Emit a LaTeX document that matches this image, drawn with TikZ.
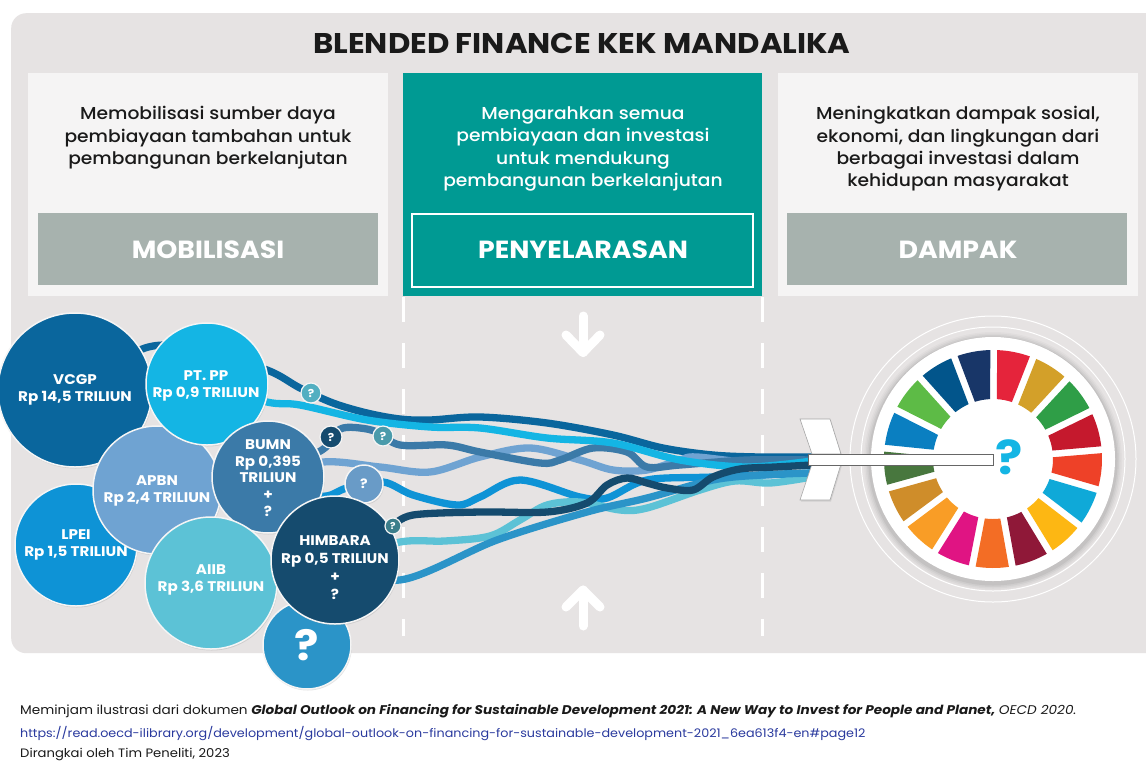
\documentclass[tikz,border=0pt]{standalone}
\usepackage{fontspec}
\setmainfont[FakeStretch=1.08]{Poppins}
\newfontfamily\medfont[FakeStretch=1.08]{Poppins Medium}
\usetikzlibrary{shadows}
\pgfdeclarelayer{panel}
\pgfdeclarelayer{ribbon}
\pgfsetlayers{panel,ribbon,main}
\definecolor{cvcgp}{HTML}{0A669D}
\definecolor{cpp}{HTML}{14B5E4}
\definecolor{capbn}{HTML}{6FA3D2}
\definecolor{clpei}{HTML}{0E93D6}
\definecolor{cbumn}{HTML}{3B7AA8}
\definecolor{caiib}{HTML}{5CC2D6}
\definecolor{cq}{HTML}{2B94C8}
\definecolor{chim}{HTML}{154B6E}
\definecolor{cpanel}{HTML}{E6E3E3}
\definecolor{ccol}{HTML}{F5F4F4}
\definecolor{cteal}{HTML}{009A93}
\definecolor{cgrey}{HTML}{A7B2AE}
\definecolor{cink}{HTML}{1A1A1A}
\definecolor{clink}{HTML}{2A3A9E}
\tikzset{
  colbox/.style={rectangle,inner sep=0pt,anchor=north west},
  headtext/.style={align=center,text=cink,font=\fontsize{17.3}{22.4}\selectfont\medfont},
  tagtext/.style={text=white,font=\fontsize{24.8}{28}\selectfont\bfseries},
  bubble/.style={circle,inner sep=0pt,draw=white!92!gray,line width=1.5pt,
    drop shadow={opacity=.22,shadow xshift=.8pt,shadow yshift=-1.5pt}},
  amount/.style={align=center,text=white,font=\fontsize{14}{16.8}\selectfont\bfseries},
  minibubble/.style={circle,inner sep=0pt,draw=white!92!gray,line width=1.2pt,text=white,font=\fontsize{11}{12}\selectfont\bfseries},
  flowline/.style={line width=7.3pt,line cap=butt,line join=round},
  dashline/.style={draw=white,line width=3pt,dash pattern=on 25pt off 21pt},
  bigarrow/.style={draw=white,line width=9pt,line cap=round,line join=round},
  notetext/.style={anchor=base west,inner sep=0pt,text=#1},
}
\begin{document}
\begin{tikzpicture}[x=1pt,y=-1pt]
\useasboundingbox (0,0) rectangle (1146,761);
\begin{pgfonlayer}{panel}
  \fill[white] (0,0) rectangle (1146,761);
  \node[colbox,fill=cpanel,rounded corners=15pt,minimum width=1150pt,minimum height=640pt] (panel) at (11,13) {};
  \node[colbox,fill=ccol,minimum width=360pt,minimum height=223pt] (colA) at (28,73) {};
  \node[colbox,fill=cteal,minimum width=359pt,minimum height=223pt] (colB) at (403,73) {};
  \node[colbox,fill=ccol,minimum width=360pt,minimum height=223pt] (colC) at (778,73) {};
  \coordinate (d1a) at (403,297); \coordinate (d1b) at (403,636);
  \coordinate (d2a) at (762,297); \coordinate (d2b) at (762,636);
  \draw[dashline] (d1a) -- (d1b);
  \draw[dashline] (d2a) -- (d2b);
\end{pgfonlayer}

\node[font=\fontsize{28.5}{30}\selectfont\bfseries,text=cink] (title) at (582,43) {BLENDED FINANCE KEK MANDALIKA};

\node[headtext] (txtA) at (208,138) {Memobilisasi sumber daya\\pembiayaan tambahan untuk\\pembangunan berkelanjutan};
\node[headtext,text=white] (txtB) at (583,149) {Mengarahkan semua\\pembiayaan dan investasi\\untuk mendukung\\pembangunan berkelanjutan};
\node[headtext] (txtC) at (958,149) {Meningkatkan dampak sosial,\\ekonomi, dan lingkungan dari\\berbagai investasi dalam\\kehidupan masyarakat};

\node[colbox,fill=cgrey,minimum width=340pt,minimum height=72pt] (tagA) at (38,213) {};
\node[colbox,draw=white,line width=1.6pt,minimum width=341pt,minimum height=73pt] (tagB) at (411,213) {};
\node[colbox,fill=cgrey,minimum width=340pt,minimum height=72pt] (tagC) at (787,213) {};
\node[tagtext] at (208,250) (tA) {MOBILISASI};
\node[tagtext] at (583,250) (tB) {PENYELARASAN};
\node[tagtext] at (958,250) (tC) {DAMPAK};

% big arrows
\coordinate (dnTop) at (583,316); \coordinate (dnTip) at (583,352.5);
\coordinate (upTop) at (583,590); \coordinate (upEnd) at (583,626);
\draw[bigarrow] (dnTop) -- (dnTip);
\draw[bigarrow] (566,335) -- (dnTip) -- (600,335);
\draw[bigarrow] (upTop) -- (upEnd);
\draw[bigarrow] (566,607) -- (upTop) -- (600,607);

% target wheel
\draw[white,line width=1pt] (993,459) circle (143pt);
\draw[white,line width=1pt] (993,459) circle (132pt);
\foreach \s/\o in {129/.025,127.5/.03,126/.04,124.5/.05}{\fill[black,opacity=\o] (993,461) circle (\s pt);}
\fill[white] (993,459) coordinate (wheel) circle (122pt);
\begin{scope}[shift={(993,459)}]
\foreach \i/\c in {0/E5243B,1/D3A029,2/2F9E47,3/C5192D,4/EE4128,5/0FA9D8,6/FDB713,7/8F1838,8/F36D25,9/E01483,10/F99D26,11/CF8D2A,12/48773E,13/0A7FC1,14/5DBB46,15/02558B,16/183668}{
  \definecolor{sl}{HTML}{\c}
  \pgfmathsetmacro\aa{89.6-\i*360/17}
  \pgfmathsetmacro\ab{\aa-360/17}
  \fill[sl] (\aa-1.8:109pt) arc[start angle=\aa-1.8,end angle=\ab+1.8,radius=109pt]
     -- (\ab+3.2:60pt) arc[start angle=\ab+3.2,end angle=\aa-3.2,radius=60pt] -- cycle;
}
\end{scope}
\node[text=cpp,font=\fontsize{47}{50}\selectfont\bfseries] (bigq) at (1009,457) {?};

% dart
\coordinate (t1) at (812,457); \coordinate (t2) at (812,461); \coordinate (t3) at (812,460);
\coordinate (t4) at (812,461); \coordinate (t5) at (812,473); \coordinate (t6) at (812,477);
\coordinate (t7) at (812,473); \coordinate (t8) at (812,465);
\path[draw=gray!70,line width=.6pt,fill=white,drop shadow={opacity=.2,shadow xshift=1pt,shadow yshift=-1.5pt}]
  (800,419) -- (830,419) -- (841,454) -- (812,454) -- cycle;
\path[draw=gray!70,line width=.6pt,fill=white,drop shadow={opacity=.2,shadow xshift=1pt,shadow yshift=-1.5pt}]
  (812,464) -- (841,464) -- (830,500) -- (800,500) -- cycle;
\node[colbox,fill=white,draw=gray!80!black,line width=.7pt,minimum width=185pt,minimum height=11pt] (shaft) at (808,454) {};

% bubbles
\node[bubble,fill=cvcgp,minimum size=154pt] (vcgp) at (75,390) {};
\node[bubble,fill=clpei,minimum size=122pt] (lpei) at (76,545) {};
\node[bubble,fill=capbn,minimum size=128pt] (apbn) at (157,490) {};
\node[bubble,fill=cpp,minimum size=122pt] (pp) at (207,384) {};
\node[bubble,fill=capbn!95!black,minimum size=38pt,text=white,font=\fontsize{13}{14}\selectfont\bfseries] (qapbn) at (364,484) {?};
\node[bubble,fill=cbumn,minimum size=112pt] (bumn) at (268,477) {};
\node[bubble,fill=cq,minimum size=88pt] (qbig) at (307,645) {};
\node[bubble,fill=caiib,minimum size=132pt] (aiib) at (211,583) {};
\node[bubble,fill=chim,minimum size=128pt] (him) at (335,560) {};
\node[minibubble,fill=chim,minimum size=22pt] (q1) at (331,437) {?};
\node[minibubble,fill=caiib!80!black,minimum size=20pt] (q2) at (383,436) {?};
\node[minibubble,fill=caiib!90!black,minimum size=20pt] (q3) at (311,393) {?};
\node[minibubble,fill=caiib!65!black,minimum size=16pt,font=\fontsize{9.5}{10}\selectfont\bfseries] (q4) at (393,526) {?};

% bubble texts
\node[amount] (tvcgp) at (75,390) {VCGP\\Rp 14,5 TRILIUN};
\node[amount] (tpp) at (206,386) {PT. PP\\Rp 0,9 TRILIUN};
\node[amount] (tapbn) at (157,491) {APBN\\Rp 2,4 TRILIUN};
\node[amount] (tlpei) at (76,545) {LPEI\\Rp 1,5 TRILIUN};
\node[amount] (taiib) at (211,580) {AIIB\\Rp 3,6 TRILIUN};
\node[amount] (tbumn) at (268,478) {BUMN\\Rp 0,395\\TRILIUN\\+\\?};
\node[amount,font=\fontsize{14}{18}\selectfont\bfseries] (thim) at (335,568) {HIMBARA\\Rp 0,5 TRILIUN\\+\\?};
\node[text=white,font=\fontsize{42}{44}\selectfont\bfseries] (tq) at (307,645) {?};

% ribbons
\begin{pgfonlayer}{ribbon}
\draw[flowline,cvcgp] plot[smooth,tension=.55] coordinates {(vcgp.center) (145,348) (200,350) (267,370) (300,388) (333,403) (367,413) (400,419) (430,420) (480,417) (547,423) (613,435) (663,448) (713,455) (760,457) (t1)};
\draw[flowline,capbn] plot[smooth,tension=.55] coordinates {(bumn.center) (323,462) (380,467) (430,472) (480,457) (530,448) (580,460) (613,470) (647,470) (680,460) (697,457) (763,464) (t2)};
\draw[flowline,cbumn] plot[smooth,tension=.55] coordinates {(bumn.center) (322,450) (332,436) (343,428) (360,428) (377,432) (400,445) (447,445) (480,452) (540,463) (560,460) (593,448) (627,452) (647,467) (680,465) (747,460) (t3)};
\draw[flowline,cpp] plot[smooth,tension=.55] coordinates {(pp.center) (267,402) (300,405) (367,420) (430,427) (480,428) (547,438) (613,443) (680,460) (747,467) (t4)};
\draw[flowline,clpei] plot[smooth,tension=.55] coordinates {(bumn.center) (320,496) (347,488) (383,482) (413,495) (457,505) (480,497) (520,480) (580,497) (607,498) (647,480) (713,477) (t5)};
\draw[flowline,caiib] plot[smooth,tension=.55] coordinates {(him.center) (400,542) (445,541) (490,536) (520,520) (547,505) (580,502) (620,510) (647,508) (700,490) (735,481) (770,483) (t6)};
\draw[flowline,cq] plot[smooth,tension=.55] coordinates {(him.center) (400,580) (497,540) (587,512) (647,498) (713,480) (762,475) (t7)};
\draw[flowline,chim] plot[smooth,tension=.55] coordinates {(q4.center) (413,515) (480,512) (547,512) (587,503) (607,485) (627,478) (647,483) (667,488) (693,490) (713,477) (740,469) (775,467) (t8)};
\end{pgfonlayer}

% footer
\node[notetext=cink,font=\fontsize{12.6}{14}\selectfont] (f1) at (20,714) {Meminjam ilustrasi dari dokumen \textbf{\textit{Global Outlook on Financing for Sustainable Development 2021: A New Way to Invest for People and Planet,}} \textit{OECD 2020.}};
\node[notetext=clink,font=\fontsize{11.8}{14}\selectfont] (f2) at (20,737) {https://read.oecd-ilibrary.org/development/global-outlook-on-financing-for-sustainable-development-2021\_6ea613f4-en\#page12};
\node[notetext=cink,font=\fontsize{12.2}{14}\selectfont] (f3) at (20,757.5) {Dirangkai oleh Tim Peneliti, 2023};
\end{tikzpicture}
\end{document}
